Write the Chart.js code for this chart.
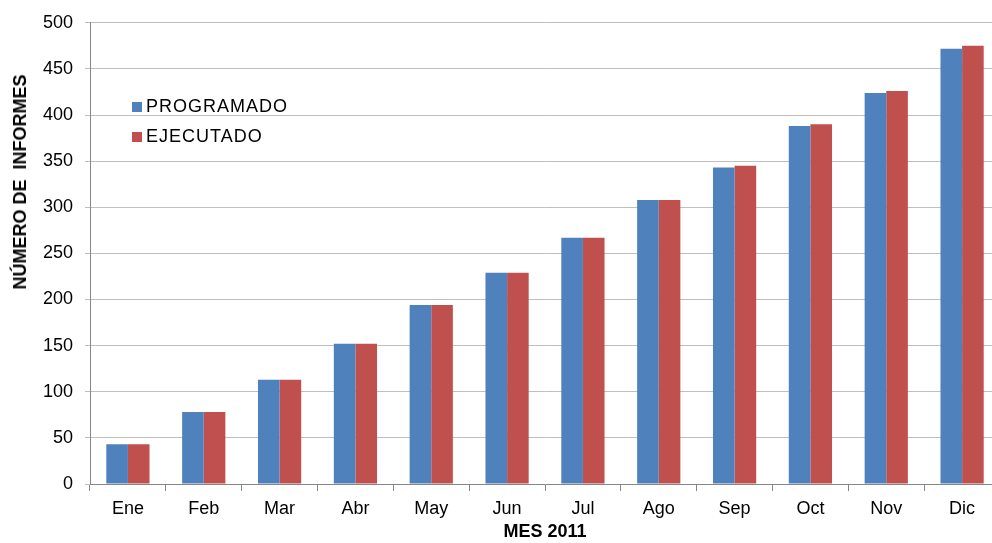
<!DOCTYPE html>
<html>
<head>
<meta charset="utf-8">
<script src="https://cdn.jsdelivr.net/npm/chart.js@4"></script>
<style>
  html, body { margin: 0; padding: 0; background: #fff; }
  #wrap { position: relative; width: 992px; height: 543px; overflow: hidden; }
  #c { position: absolute; left: 0; top: 0; }
  .lg { position: absolute; font-family: 'Liberation Sans', Arial, sans-serif; font-size: 18px; line-height: 20px; letter-spacing: 1px; color: #000; white-space: nowrap; }
  .sw { position: absolute; width: 10px; height: 10px; }
  #ytitle { position: absolute; left: 19.5px; top: 182px; transform: translate(-50%, -50%) rotate(-90deg);
            font-family: 'Liberation Sans', Arial, sans-serif; font-size: 18px; font-weight: bold; white-space: pre; line-height: 20px; }
</style>
</head>
<body>
<div id="wrap">
  <canvas id="c" width="1000" height="543"></canvas>
  <div id="ytitle"></div>
</div>
<script>
const months = ['Ene', 'Feb', 'Mar', 'Abr', 'May', 'Jun', 'Jul', 'Ago', 'Sep', 'Oct', 'Nov', 'Dic'];
const programado = [43, 78, 113, 152, 194, 229, 267, 308, 343, 388, 424, 472];
const ejecutado = [43, 78, 113, 152, 194, 229, 267, 308, 345, 390, 426, 475];
const seriesNames = ['PROGRAMADO', 'EJECUTADO'];
const seriesColors = ['#4F81BD', '#C0504D'];
const xTitle = 'MES 2011';
const yTitle = 'NÚMERO DE  INFORMES';

const font = "'Liberation Sans', Arial, sans-serif";
Chart.defaults.font.family = font;
Chart.defaults.color = '#000';

// legend + y title as html overlays (legend sits inside the plot in the original)
const wrap = document.getElementById('wrap');
seriesNames.forEach((name, i) => {
  const sw = document.createElement('div');
  sw.className = 'sw';
  sw.style.background = seriesColors[i];
  sw.style.left = '132px';
  sw.style.top = (102 + i * 30) + 'px';
  wrap.appendChild(sw);
  const txt = document.createElement('div');
  txt.className = 'lg';
  txt.textContent = name;
  txt.style.left = '146px';
  txt.style.top = (95.5 + i * 30) + 'px';
  wrap.appendChild(txt);
});
document.getElementById('ytitle').textContent = yTitle;

new Chart(document.getElementById('c'), {
  type: 'bar',
  data: {
    labels: months,
    datasets: [
      { label: seriesNames[0], data: programado, backgroundColor: seriesColors[0] },
      { label: seriesNames[1], data: ejecutado, backgroundColor: seriesColors[1] },
    ]
  },
  options: {
    responsive: false,
    animation: false,
    layout: { padding: { top: 22, right: 0, left: 0, bottom: 0 } },
    datasets: { bar: { barPercentage: 1, categoryPercentage: 0.57 } },
    plugins: { legend: { display: false }, tooltip: { enabled: false } },
    scales: {
      x: {
        grid: { display: true, drawOnChartArea: false, color: '#868686', tickLength: 7 },
        border: { color: '#868686' },
        ticks: { font: { size: 18 }, padding: 7 },
        title: { display: true, text: xTitle, font: { size: 18, weight: 'bold' }, padding: { top: 0, bottom: 0 } },
        afterFit: (s) => { s.height = 59; },
      },
      y: {
        min: 0, max: 500,
        ticks: { stepSize: 50, font: { size: 18 }, padding: 12 },
        grid: { color: '#BFBFBF', tickLength: 5 },
        border: { color: '#868686' },
        afterFit: (s) => { s.width = 90; },
      }
    }
  }
});
</script>
</body>
</html>
